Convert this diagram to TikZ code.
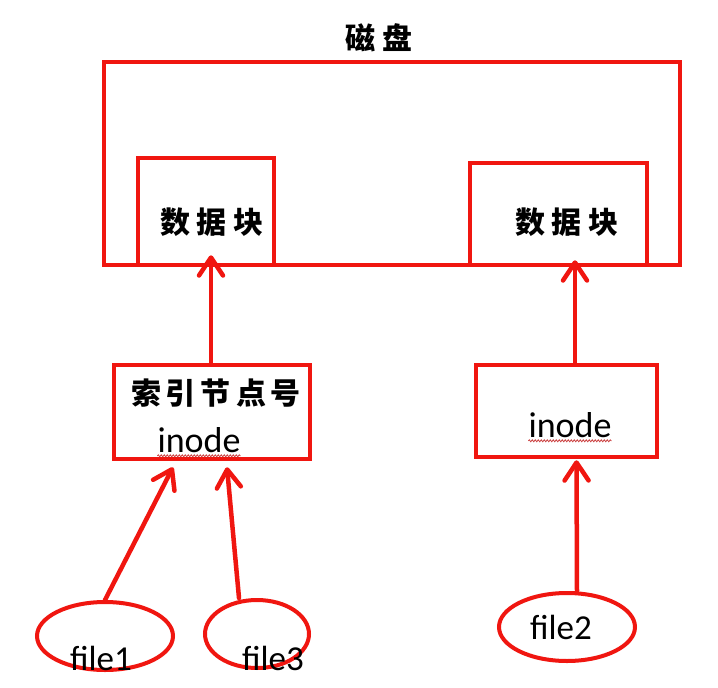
\documentclass[tikz,border=0pt]{standalone}
\usepackage{fontspec}
\setmainfont{Carlito}
\newfontfamily\cjk{Noto Sans CJK SC}
\usetikzlibrary{arrows.meta,shapes.geometric,decorations.pathmorphing}
\definecolor{lred}{RGB}{240,22,16}
\definecolor{wavyred}{RGB}{205,70,70}
\begin{document}
\begin{tikzpicture}[x=1pt,y=-1pt,
  box/.style={draw=lred, line width=4.5pt, rectangle, inner sep=0pt},
  oval/.style={draw=lred, line width=4pt, ellipse, inner sep=0pt},
  arr/.style={draw=lred, line width=4.5pt, line cap=round,
    -{Straight Barb[length=18pt,width=24pt,round]}},
  cjktxt/.style={font=\cjk\bfseries\fontsize{30}{30}\selectfont, inner sep=0pt},
  lat/.style={font=\fontsize{36}{36}\selectfont, inner sep=0pt},
  filetxt/.style={font=\fontsize{35}{35}\selectfont, inner sep=0pt},
  wavy/.style={draw=wavyred, line width=0.8pt, decorate,
    decoration={snake,amplitude=1pt,segment length=3pt}}]
\useasboundingbox (0,0) rectangle (718,688);
\fill[white] (0,0) rectangle (718,688);

% disk
\node[box, minimum width=576pt, minimum height=203pt] (disk) at (392,163.5) {};
\node[cjktxt] (title) at (379,38) {磁\hspace{8pt}盘};

% data blocks
\node[box, minimum width=136pt, minimum height=107pt] (dbL) at (206,211.5) {};
\node[box, minimum width=177pt, minimum height=102pt] (dbR) at (558.5,214) {};
\node[cjktxt] (dbLt) at (212,222) {数\hspace{7pt}据\hspace{7pt}块};
\node[cjktxt] (dbRt) at (567,222) {数\hspace{7pt}据\hspace{7pt}块};

% inode boxes
\node[box, minimum width=196pt, minimum height=94pt] (inL) at (212,412) {};
\node[box, minimum width=181pt, minimum height=92pt] (inR) at (566.5,411) {};
\node[cjktxt] (inLt) at (216,393) {索\hspace{5pt}引\hspace{5pt}节\hspace{5pt}点\hspace{5pt}号};
\node[lat] (inLi) at (199,440) {inode};
\node[lat] (inRi) at (570,425) {inode};
\draw[wavy] ([yshift=-3pt]inLi.south west) -- ([yshift=-3pt]inLi.south east);
\draw[wavy] ([yshift=-3pt]inRi.south west) -- ([yshift=-3pt]inRi.south east);

% files
\node[oval, minimum width=136pt, minimum height=68pt] (f1) at (105,636) {};
\node[oval, minimum width=104pt, minimum height=68pt] (f3) at (257,634) {};
\node[oval, minimum width=136pt, minimum height=68pt] (f2) at (567,627) {};
\node[filetxt] (f1t) at (101,658) {file1};
\node[filetxt] (f3t) at (273,658) {file3};
\node[filetxt] (f2t) at (561,627) {file2};

% arrows
\draw[arr] (f1.north) -- ([xshift=-39pt,yshift=-6pt]inL.south);
\draw[arr] ([xshift=-18pt]f3.north) -- ([xshift=15pt,yshift=-6pt]inL.south);
\draw[arr] ([xshift=10pt]f2.north) -- ([xshift=10pt,yshift=-1pt]inR.south);
\draw[arr] ([xshift=-1pt]inL.north) -- ([xshift=5pt,yshift=12pt]dbL.south);
\draw[arr] ([xshift=8.5pt]inR.north) -- ([xshift=16.5pt,yshift=7pt]dbR.south);
\end{tikzpicture}
\end{document}
